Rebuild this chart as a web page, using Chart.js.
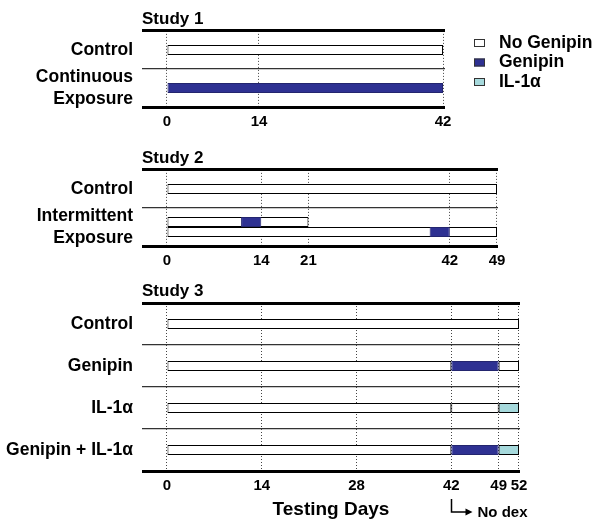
<!DOCTYPE html>
<html lang="en">
<head>
<meta charset="UTF-8">
<title>Study timelines</title>
<style>
  body { margin: 0; background: #fff; }
  .wrap { position: relative; width: 602px; height: 529px; }
  .wrap canvas { position: absolute; left: 0; }
</style>
</head>
<body>
<div class="wrap">
  <canvas id="study1" width="602" height="137" style="top:0px"></canvas>
  <canvas id="study2" width="602" height="137" style="top:139px"></canvas>
  <canvas id="study3" width="602" height="249" style="top:280px"></canvas>
</div>

<script src="https://cdn.jsdelivr.net/npm/chart.js"></script>
<script>
// ---- data (days) ----
// Study 1
const s1Rows = ['Control', ['Continuous', 'Exposure']];
const s1Ticks = [0, 14, 42];
const s1NoGenipin = [[0, 42], null];
const s1Genipin = [null, [0, 42]];

// Study 2 - intermittent row has two sub-bars (a = upper, b = lower)
const s2Rows = ['Control', ['Intermittent', 'Exposure']];
const s2Ticks = [0, 14, 21, 42, 49];
const s2NoGenipinA = [[0, 49], [0, 21]];
const s2GenipinA = [null, [11, 14]];
const s2NoGenipinB = [null, [0, 49]];
const s2GenipinB = [null, [39, 42]];

// Study 3
const s3Rows = ['Control', 'Genipin', 'IL-1α', 'Genipin + IL-1α'];
const s3Ticks = [0, 14, 28, 42, 49, 52];
const s3NoGenipin1 = [[0, 52], [0, 42], [0, 42], [0, 42]];
const s3NoGenipin2 = [null, [49, 52], [42, 49], null];
const s3Genipin = [null, [42, 49], null, [42, 49]];
const s3IL1a = [null, null, [49, 52], [49, 52]];
const noDexDay = 42;

const legendLabels = ['No Genipin', 'Genipin', 'IL-1α'];

// ---- styles ----
const FONT = "'Liberation Sans', Arial, sans-serif";
const WHITE = '#ffffff';
const BLUE = '#2e3192';
const CYAN = '#a6d9dc';

// datasets earlier in the list are drawn on top
function bar(label, data, color, stack) {
  return {
    label: label,
    data: data,
    backgroundColor: color,
    borderColor: color === BLUE ? '#23256e' : '#000',
    stack: stack
  };
}

// legend drawn at the right of study 1
const sideLegend = {
  id: 'sideLegend',
  afterDraw(chart) {
    const ctx = chart.ctx;
    const fills = [WHITE, BLUE, CYAN];
    ctx.save();
    ctx.font = 'bold 17.5px ' + FONT;
    ctx.textBaseline = 'middle';
    legendLabels.forEach((label, i) => {
      const y = 43 + i * 19.5;
      ctx.fillStyle = fills[i];
      ctx.fillRect(474, y - 4, 11, 8);
      ctx.strokeStyle = '#333';
      ctx.lineWidth = 1;
      ctx.strokeRect(474.5, y - 3.5, 10, 7);
      ctx.fillStyle = '#000';
      ctx.fillText(label, 499, y);
    });
    ctx.restore();
  }
};

// "No dex" note under day 42 of study 3
const noDexNote = {
  id: 'noDexNote',
  afterDraw(chart) {
    const ctx = chart.ctx;
    const x = Math.round(chart.scales.x.getPixelForValue(noDexDay)) + 0.5;
    const b = chart.chartArea.bottom;
    ctx.save();
    ctx.strokeStyle = '#000';
    ctx.fillStyle = '#000';
    ctx.lineWidth = 1.5;
    ctx.beginPath();
    ctx.moveTo(x, b + 28);
    ctx.lineTo(x, b + 41);
    ctx.lineTo(x + 15, b + 41);
    ctx.stroke();
    ctx.beginPath();
    ctx.moveTo(x + 21, b + 41);
    ctx.lineTo(x + 14, b + 37.5);
    ctx.lineTo(x + 14, b + 44.5);
    ctx.closePath();
    ctx.fill();
    ctx.font = 'bold 15px ' + FONT;
    ctx.textBaseline = 'middle';
    ctx.fillText('No dex', x + 26, b + 41.5);
    ctx.restore();
  }
};

function makeStudy(id, title, rows, ticks, datasets, xMin, xMax, padRight, xHeight, xTitle, plugins) {
  return new Chart(document.getElementById(id), {
    type: 'bar',
    data: { labels: rows, datasets: datasets },
    plugins: plugins,
    options: {
      responsive: false,
      animation: false,
      indexAxis: 'y',
      layout: { padding: { left: 0, right: padRight, top: 0, bottom: 0 } },
      datasets: {
        bar: { barThickness: 10, skipNull: true, borderWidth: 1, borderSkipped: false, inflateAmount: 0 }
      },
      plugins: {
        legend: { display: false },
        tooltip: { enabled: false },
        title: {
          display: true,
          text: title,
          align: 'start',
          fullSize: false,
          color: '#000',
          font: { family: FONT, size: 17, weight: 'bold', lineHeight: 1 },
          padding: { top: 3, bottom: 3 }
        }
      },
      scales: {
        x: {
          type: 'linear',
          min: xMin,
          max: xMax,
          stacked: false,
          afterBuildTicks: s => { s.ticks = ticks.map(v => ({ value: v })); },
          afterFit: s => { s.height = xHeight; },
          grid: { color: '#444', lineWidth: 1, drawTicks: false },
          border: { display: false, dash: [1, 2] },
          ticks: {
            color: '#000',
            font: { family: FONT, size: 15, weight: 'bold' },
            padding: 6,
            maxRotation: 0,
            autoSkip: false
          },
          title: {
            display: !!xTitle,
            text: xTitle || '',
            color: '#000',
            font: { family: FONT, size: 19, weight: 'bold' },
            padding: { top: 0, bottom: 8 }
          }
        },
        y: {
          stacked: true,
          afterFit: s => { s.width = 142; },
          grid: {
            color: c => (c.type === 'tick' && c.index > 0) ? '#333' : '#000',
            lineWidth: c => (c.type === 'tick' && c.index > 0) ? 1.3 : 3,
            drawTicks: false
          },
          border: { display: false },
          ticks: {
            color: '#000',
            font: { family: FONT, size: 17.5, weight: 'bold', lineHeight: 1.25 },
            padding: 9,
            autoSkip: false
          }
        }
      }
    }
  });
}

makeStudy('study1', 'Study 1', s1Rows, s1Ticks, [
  bar('No Genipin', s1NoGenipin, WHITE, 'a'),
  bar('Genipin', s1Genipin, BLUE, 'a')
], -3.8, 42.3, 157, 30, null, [sideLegend]);

makeStudy('study2', 'Study 2', s2Rows, s2Ticks, [
  bar('Genipin', s2GenipinA, BLUE, 'a'),
  bar('Genipin', s2GenipinB, BLUE, 'b'),
  bar('No Genipin', s2NoGenipinA, WHITE, 'a'),
  bar('No Genipin', s2NoGenipinB, WHITE, 'b')
], -3.71, 49.15, 104, 30, null, []);

makeStudy('study3', 'Study 3', s3Rows, s3Ticks, [
  bar('Genipin', s3Genipin, BLUE, 'a'),
  bar('IL-1α', s3IL1a, CYAN, 'a'),
  bar('No Genipin', s3NoGenipin1, WHITE, 'a'),
  bar('No Genipin', s3NoGenipin2, WHITE, 'a')
], -3.69, 52.15, 82, 58, 'Testing Days', [noDexNote]);
</script>
</body>
</html>
